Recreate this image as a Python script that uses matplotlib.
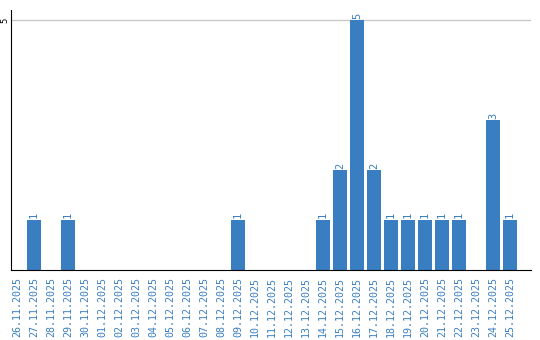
import matplotlib
matplotlib.use("Agg")
import matplotlib.pyplot as plt

# Data: daily counts 26.11.2025 - 25.12.2025
dates = ['26.11.2025', '27.11.2025', '28.11.2025', '29.11.2025', '30.11.2025',
         '01.12.2025', '02.12.2025', '03.12.2025', '04.12.2025', '05.12.2025',
         '06.12.2025', '07.12.2025', '08.12.2025', '09.12.2025', '10.12.2025',
         '11.12.2025', '12.12.2025', '13.12.2025', '14.12.2025', '15.12.2025',
         '16.12.2025', '17.12.2025', '18.12.2025', '19.12.2025', '20.12.2025',
         '21.12.2025', '22.12.2025', '23.12.2025', '24.12.2025', '25.12.2025']
counts = [0, 1, 0, 1, 0,
          0, 0, 0, 0, 0,
          0, 0, 0, 1, 0,
          0, 0, 0, 1, 2,
          5, 2, 1, 1, 1,
          1, 1, 0, 3, 1]

blue = '#3a7ec2'

fig = plt.figure(figsize=(5.4, 3.4), dpi=100)
ax = fig.add_axes([11 / 540, 70 / 340, 520 / 540, 260 / 340])

x = list(range(len(dates)))
ax.bar(x, counts, width=0.82, color=blue, zorder=2)

for i, v in enumerate(counts):
    if v > 0:
        ax.text(i, v + 0.03, str(v), rotation=90, ha='center', va='bottom',
                color=blue, fontsize=7.5, family='DejaVu Sans Mono')

ax.set_xlim(-0.35, 30.24)
ax.set_ylim(0, 5.2)
ax.set_yticks([5])
ax.set_yticklabels(['5'], rotation=90, va='center', fontsize=6.5,
                   family='DejaVu Sans Mono')
ax.tick_params(axis='y', length=0, pad=1)
ax.yaxis.grid(True, color='#c8c8c8', linewidth=1, zorder=0)

ax.set_xticks(x)
ax.set_xticklabels(dates, rotation=90, color=blue, fontsize=7.2,
                   family='DejaVu Sans Mono')
ax.tick_params(axis='x', length=0, pad=5)

ax.spines['top'].set_visible(False)
ax.spines['right'].set_visible(False)
ax.spines['left'].set_color('black')
ax.spines['bottom'].set_color('black')

fig.savefig('out.png', dpi=100)
